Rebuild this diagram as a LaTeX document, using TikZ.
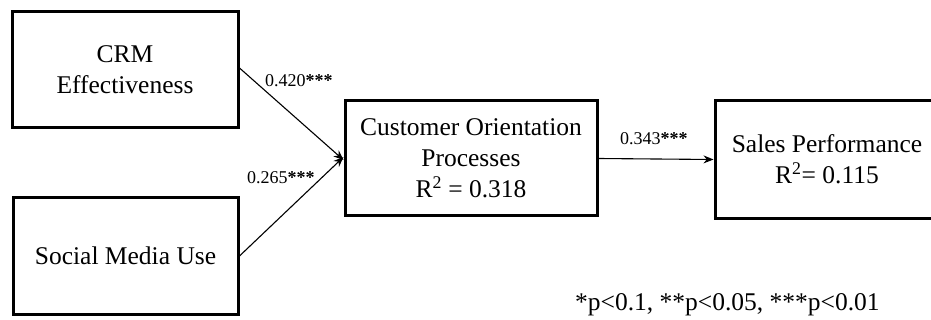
\documentclass[tikz,border=0pt]{standalone}
\usepackage{fontspec}
\setmainfont{Liberation Serif}
\usetikzlibrary{arrows.meta}

\newcommand{\sigstars}{\textbf{***}}

\begin{document}
\begin{tikzpicture}[x=1pt,y=-1pt,
  construct/.style={draw=black, line width=3pt, fill=white, align=center,
    font=\fontsize{25.5}{31}\selectfont, inner sep=0pt},
  path/.style={line width=1.1pt, -{Stealth[length=10pt,width=8pt]}},
  coef/.style={anchor=base west, inner sep=0pt, font=\fontsize{18}{20}\selectfont}
]
\useasboundingbox (0,0) rectangle (931,320);

% latent constructs
\node[construct, minimum width=226pt, minimum height=116pt] (crm) at (125,70)
  {CRM\\Effectiveness};
\node[construct, minimum width=225pt, minimum height=116pt] (smu) at (125.5,256)
  {Social Media Use};
\node[construct, minimum width=252pt, minimum height=115pt] (cop) at (471,158.5)
  {Customer Orientation\\Processes\\R\textsuperscript{2} = 0.318};
\node[construct, minimum width=224pt, minimum height=118pt] (sp) at (827,159.5)
  {Sales Performance\\R\textsuperscript{2}= 0.115};

% structural paths
\draw[path] ([yshift=2pt]crm.east) -- ([yshift=-1.5pt]cop.west);
\draw[path] (smu.east) -- ([yshift=1.5pt]cop.west);
\draw[path] (cop.east) -- (sp.west);

% path coefficients
\node[coef] (c1) at (265,87) {0.420\sigstars};
\node[coef] (c2) at (247,184) {0.265\sigstars};
\node[coef] (c3) at (620,145) {0.343\sigstars};

% significance legend
\node[anchor=base west, inner sep=0pt, font=\fontsize{25.5}{31}\selectfont] (sig) at (575,310)
  {*p<0.1, **p<0.05, ***p<0.01};
\end{tikzpicture}
\end{document}
